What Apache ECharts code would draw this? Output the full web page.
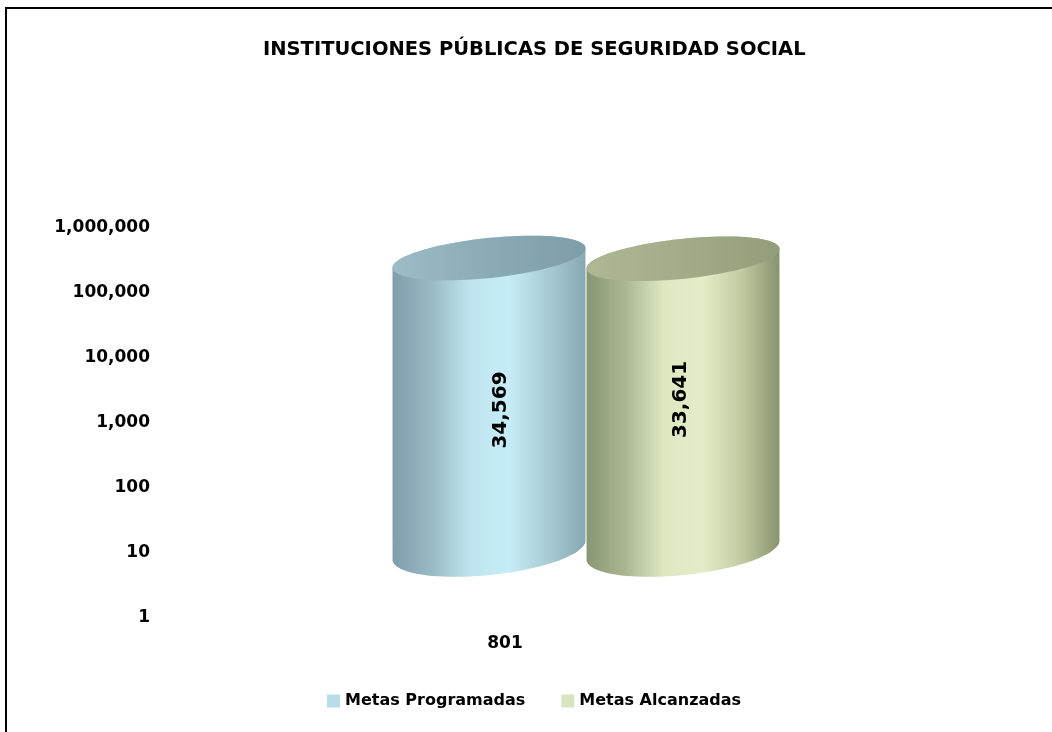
<!DOCTYPE html>
<html>
<head>
<meta charset="utf-8">
<script src="https://cdn.jsdelivr.net/npm/echarts@6/dist/echarts.min.js"></script>
<style>
    html, body { margin: 0; padding: 0; background: #fff; }
    #chart { width: 1052px; height: 732px; }
</style>
</head>
<body>
<div id="chart"></div>
<script>
    // datos del grafico
    const titulo = 'INSTITUCIONES PÚBLICAS DE SEGURIDAD SOCIAL'
    const categorias = ['801']
    const nombresSeries = ['Metas Programadas', 'Metas Alcanzadas']
    const metasProgramadas = [34569]
    const metasAlcanzadas = [33641]
    const ejeMin = 1
    const ejeMax = 1000000

    const fuente = '"DejaVu Sans", sans-serif'

    // colores de cada cilindro: cuerpo (degradado horizontal) y tapa
    const estilos = [
        {
            legend: '#b7dde8',
            body: ['#7c9daa', '#98b9c4', '#bfe4ef', '#c6edf7', '#a9ccd6', '#86a8b3'],
            top: ['#9cbdc7', '#8aabb5', '#7d9ea8']
        },
        {
            legend: '#d7e4bd',
            body: ['#899673', '#aab790', '#dde8c1', '#e3eec8', '#c1cca2', '#88936f'],
            top: ['#aeb893', '#a2ac88', '#939d79']
        }
    ]

    function puntoElipse(cx, cy, rx, ry, ang, t) {
        return [
            cx + rx * Math.cos(t) * Math.cos(ang) - ry * Math.sin(t) * Math.sin(ang),
            cy + rx * Math.cos(t) * Math.sin(ang) + ry * Math.sin(t) * Math.cos(ang)
        ]
    }

    function degradado(cols) {
        const n = cols.length
        return new echarts.graphic.LinearGradient(0, 0, 1, 0, cols.map((c, i) => {
            return {offset: i / (n - 1), color: c}
        }))
    }

    function renderCilindro(params, api) {
        const idx = params.seriesIndex
        const est = estilos[idx]
        const tope = api.coord([api.value(0), api.value(1)])
        const base = api.coord([api.value(0), ejeMin])
        const banda = api.size([1, 0])[0]
        const w = banda * 0.5
        const cx = tope[0] + (idx - 0.5) * w
        const rx = w / 2
        const ang = -0.105
        const ryTop = 20
        const ryBot = 25
        const pasos = 48

        // cuerpo: lado izquierdo, frente inferior, lado derecho y parte trasera de la tapa
        const pts = []
        for (let i = 0; i <= pasos; i++) {
            pts.push(puntoElipse(cx, base[1], rx, ryBot, ang, Math.PI - Math.PI * i / pasos))
        }
        for (let i = 0; i <= pasos; i++) {
            pts.push(puntoElipse(cx, tope[1], rx, ryTop, ang, -Math.PI * i / pasos))
        }
        const tapa = []
        for (let i = 0; i < pasos * 2; i++) {
            tapa.push(puntoElipse(cx, tope[1], rx, ryTop, ang, 2 * Math.PI * i / (pasos * 2)))
        }

        return {
            type: 'group',
            children: [
                {
                    type: 'polygon',
                    shape: {points: pts},
                    style: {fill: degradado(est.body)}
                },
                {
                    type: 'polygon',
                    shape: {points: tapa},
                    style: {fill: degradado(est.top)}
                },
                {
                    type: 'text',
                    x: cx + (idx === 0 ? 12 : -2),
                    y: (tope[1] + base[1]) / 2 + (idx === 0 ? 6 : -5),
                    rotation: Math.PI / 2,
                    style: {
                        text: api.value(1).toLocaleString('en-US'),
                        font: 'bold 20px ' + fuente,
                        fill: '#000',
                        align: 'center',
                        verticalAlign: 'middle'
                    }
                }
            ]
        }
    }

    const chart = echarts.init(document.getElementById('chart'))

    chart.setOption({
        backgroundColor: '#fff',
        animation: false,
        title: {
            text: titulo,
            left: 258,
            top: 35,
            textStyle: {fontFamily: fuente, fontWeight: 'bold', fontSize: 19.5, color: '#000'}
        },
        legend: {
            bottom: 18,
            left: 322,
            icon: 'rect',
            itemWidth: 13,
            itemHeight: 13,
            itemGap: 36,
            textStyle: {fontFamily: fuente, fontWeight: 'bold', fontSize: 16, color: '#000'},
            data: nombresSeries
        },
        graphic: [{
            type: 'rect',
            shape: {x: 6, y: 8, width: 1200, height: 900},
            style: {fill: null, stroke: '#000', lineWidth: 2},
            silent: true
        }],
        grid: [
            // eje visible
            {left: 160, right: 202, top: 228, bottom: 114},
            // area de los cilindros (desplazada por la perspectiva 3D)
            {left: 392, right: 272, top: 164, bottom: 182}
        ],
        xAxis: [
            {
                type: 'category',
                gridIndex: 0,
                data: categorias,
                axisLine: {show: false},
                axisTick: {show: false},
                axisLabel: {margin: 17, fontFamily: fuente, fontWeight: 'bold', fontSize: 17, color: '#000'}
            },
            {
                type: 'category',
                gridIndex: 1,
                data: categorias,
                show: false
            }
        ],
        yAxis: [
            {
                type: 'log',
                gridIndex: 0,
                logBase: 10,
                min: ejeMin,
                max: ejeMax,
                axisLine: {show: false},
                axisTick: {show: false},
                splitLine: {show: false},
                axisLabel: {
                    margin: 10,
                    fontFamily: fuente,
                    fontWeight: 'bold',
                    fontSize: 17,
                    color: '#000',
                    formatter: v => Math.round(v).toLocaleString('en-US')
                }
            },
            {
                type: 'log',
                gridIndex: 1,
                logBase: 10,
                min: ejeMin,
                max: ejeMax,
                show: false
            }
        ],
        series: [
            {
                name: nombresSeries[0],
                type: 'custom',
                xAxisIndex: 1,
                yAxisIndex: 1,
                itemStyle: {color: estilos[0].legend},
                renderItem: renderCilindro,
                encode: {x: 0, y: 1},
                data: metasProgramadas.map((v, i) => [i, v])
            },
            {
                name: nombresSeries[1],
                type: 'custom',
                xAxisIndex: 1,
                yAxisIndex: 1,
                itemStyle: {color: estilos[1].legend},
                renderItem: renderCilindro,
                encode: {x: 0, y: 1},
                data: metasAlcanzadas.map((v, i) => [i, v])
            }
        ]
    })
</script>
</body>
</html>
